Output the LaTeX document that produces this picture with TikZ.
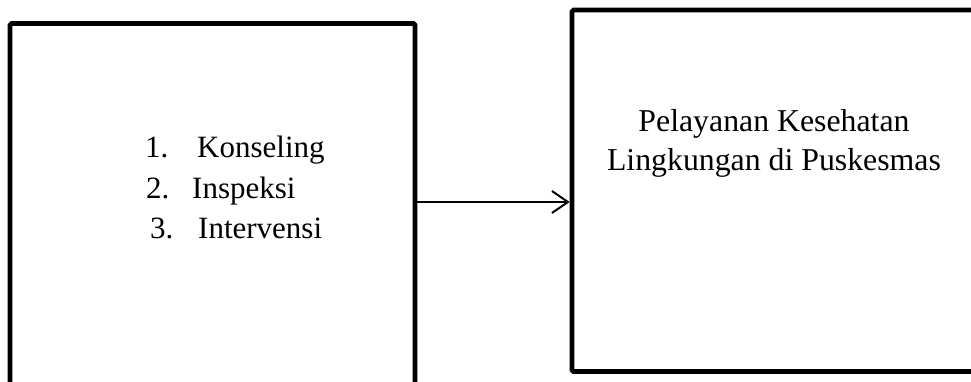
\documentclass[tikz,border=0pt]{standalone}
\usepackage{fontspec}
\setmainfont{Liberation Serif}
\usetikzlibrary{arrows.meta}
\tikzset{
  bigbox/.style={draw, line width=4.6pt, rounded corners=1.5pt, inner sep=0pt, fill=none},
  txt/.style={inner sep=0pt, font=\fontsize{31}{40}\selectfont},
  rtxt/.style={inner sep=0pt, font=\fontsize{31.8}{40}\selectfont},
  flow/.style={line width=1.8pt, -{Straight Barb[length=16pt, width=22pt, line width=2pt]}}
}
\begin{document}
\begin{tikzpicture}[x=1pt, y=-1pt]
\useasboundingbox (0,0) rectangle (971,381);
\clip (0,0) rectangle (971,381);
% boxes
\node[bigbox, minimum width=405pt, minimum height=380pt] (lb) at (212.5,213.5) {};
\node[bigbox, minimum width=420pt, minimum height=361.5pt] (rb) at (782,190.75) {};
% list
\node[txt, anchor=base west] (n1) at (145,157) {1.};
\node[txt, anchor=base west] (t1) at (197,157) {Konseling};
\node[txt, anchor=base west] (n2) at (146,198) {2.};
\node[txt, anchor=base west] (t2) at (192,198) {Inspeksi};
\node[txt, anchor=base west] (n3) at (150,238) {3.};
\node[txt, anchor=base west] (t3) at (198,238) {Intervensi};
% right text
\node[rtxt, anchor=base] (r1) at (774,131) {Pelayanan Kesehatan};
\node[rtxt, anchor=base] (r2) at (774,170) {Lingkungan di Puskesmas};
% connector
\coordinate (ay) at (0,202);
\draw[flow] (lb.east |- ay) -- (rb.west |- ay);
\end{tikzpicture}
\end{document}
